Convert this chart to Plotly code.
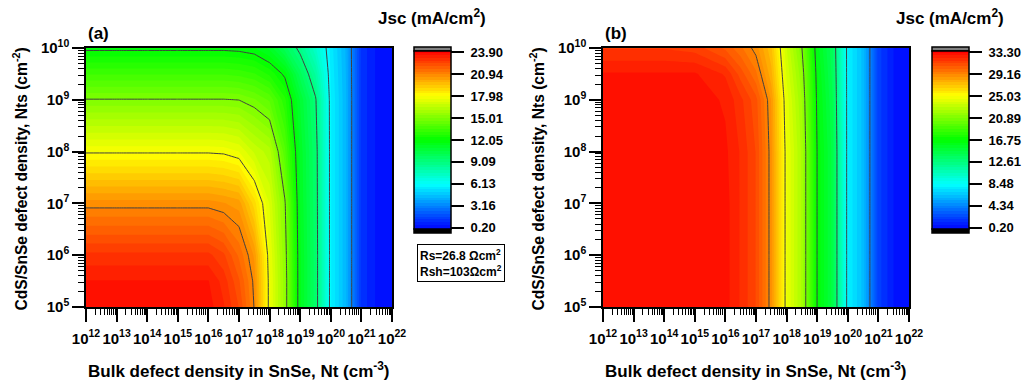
import numpy as np
import plotly.graph_objects as go

# Grid: log10 of bulk defect density Nt (cm^-3) and interface defect density Nts (cm^-2)
nt_log = [12, 13, 14, 15, 16, 16.5, 17, 17.5, 18, 18.5, 19, 19.5, 20, 20.5, 21, 21.5, 22]
nts_log = [5, 5.5, 6, 7, 8, 9, 9.5, 10]

# Jsc (mA/cm^2), one row per Nts value, panel (a): Rs=26.8, Rsh=103
jsc_a = [
    [23.7, 23.7, 23.7, 23.7, 23.7, 23.2, 22.4, 20.9, 17.7, 15.5, 11.4, 9.6, 5.8, 4.3, 1.2, 0.5, 0.3],
    [23.55, 23.55, 23.55, 23.55, 23.55, 23.0, 22.1, 20.8, 17.7, 15.5, 11.4, 9.6, 5.8, 4.3, 1.2, 0.5, 0.3],
    [22.9, 22.9, 22.9, 22.9, 22.9, 22.5, 21.6, 20.5, 17.6, 15.4, 11.4, 9.6, 5.8, 4.3, 1.2, 0.5, 0.3],
    [20.75, 20.75, 20.75, 20.75, 20.75, 20.6, 20.4, 18.9, 17.2, 15.1, 11.3, 9.55, 5.8, 4.3, 1.2, 0.5, 0.3],
    [17.9, 17.9, 17.9, 17.9, 17.9, 17.85, 17.6, 16.8, 16.3, 14.0, 11.2, 9.5, 5.8, 4.3, 1.2, 0.5, 0.3],
    [15.05, 15.05, 15.05, 15.05, 15.05, 15.05, 15.0, 14.7, 14.2, 12.9, 10.9, 9.2, 5.8, 4.3, 1.2, 0.5, 0.3],
    [13.5, 13.5, 13.5, 13.5, 13.5, 13.5, 13.4, 13.2, 12.7, 11.9, 10.0, 8.3, 5.7, 4.25, 1.2, 0.5, 0.3],
    [11.9, 11.9, 11.9, 11.9, 11.9, 11.9, 11.85, 11.7, 11.2, 10.0, 8.8, 7.3, 5.6, 4.2, 1.2, 0.5, 0.3],
]

# Jsc (mA/cm^2), panel (b)
jsc_b = [
    [33.0, 33.0, 33.0, 33.0, 33.0, 32.2, 31.2, 28.8, 24.6, 22.3, 16.7, 14.5, 8.0, 6.2, 2.0, 0.7, 0.3],
    [33.0, 33.0, 33.0, 33.0, 33.0, 32.2, 31.2, 28.8, 24.6, 22.3, 16.7, 14.5, 8.0, 6.2, 2.0, 0.7, 0.3],
    [33.0, 33.0, 33.0, 33.0, 33.0, 32.2, 31.2, 28.8, 24.6, 22.3, 16.7, 14.5, 8.0, 6.2, 2.0, 0.7, 0.3],
    [33.0, 33.0, 33.0, 33.0, 33.0, 32.2, 31.2, 28.8, 24.6, 22.3, 16.7, 14.5, 8.0, 6.2, 2.0, 0.7, 0.3],
    [33.0, 33.0, 33.0, 33.0, 32.9, 32.2, 31.2, 28.8, 24.6, 22.3, 16.7, 14.5, 8.0, 6.2, 2.0, 0.7, 0.3],
    [33.1, 33.1, 33.1, 33.1, 32.7, 31.9, 30.9, 28.6, 24.3, 21.9, 16.5, 14.2, 8.0, 6.2, 2.0, 0.7, 0.3],
    [32.85, 32.85, 32.85, 32.85, 32.2, 31.0, 29.8, 27.8, 23.9, 21.5, 16.3, 14.0, 8.0, 6.2, 2.0, 0.7, 0.3],
    [31.7, 31.7, 31.7, 31.5, 30.6, 29.8, 28.9, 27.2, 23.5, 20.9, 16.0, 13.8, 8.0, 6.2, 2.0, 0.7, 0.3],
]

# Colour-scale limits and major levels
range_a = (0.20, 23.90)
range_b = (0.20, 33.30)
ticks_a = ["0.20", "3.16", "6.13", "9.09", "12.05", "15.01", "17.98", "20.94", "23.90"]
ticks_b = ["0.20", "4.34", "8.48", "12.61", "16.75", "20.89", "25.03", "29.16", "33.30"]
x_decades = list(range(12, 23))
y_decades = list(range(5, 11))

W, H = 1024, 384
FONT = "Liberation Sans, Arial, sans-serif"

rainbow = [
    [0.0, "rgb(0,0,255)"],
    [0.25, "rgb(0,255,255)"],
    [0.5, "rgb(0,255,0)"],
    [0.75, "rgb(255,255,0)"],
    [0.875, "rgb(255,128,0)"],
    [1.0, "rgb(255,0,0)"],
]


def px_x(p):
    return p / W


def px_y(p):
    return 1 - p / H


def bold(size):
    return dict(family=FONT, size=size, color="black", weight="bold")


panels = [
    dict(z=jsc_a, rng=range_a, ticks=ticks_a, left=86, right=392, cb=414, xa="x", ya="y", tag="(a)"),
    dict(z=jsc_b, rng=range_b, ticks=ticks_b, left=603, right=909, cb=932, xa="x2", ya="y2", tag="(b)"),
]

PLOT_TOP, PLOT_BOT = 48, 307
CB_TOP, CB_BOT = 51, 229
N_BANDS = 64

fig = go.Figure()
shapes = []
annotations = []

for i, p in enumerate(panels):
    lo, hi = p["rng"]
    major = (hi - lo) / 8
    fig.add_trace(go.Contour(
        x=nt_log, y=nts_log, z=p["z"],
        xaxis=p["xa"], yaxis=p["ya"],
        colorscale=rainbow,
        autocontour=False,
        contours=dict(start=lo, end=hi, size=(hi - lo) / N_BANDS, coloring="fill", showlines=False),
        line=dict(width=0, smoothing=0),
        colorbar=dict(
            x=px_x(p["cb"]), xanchor="left", xpad=0,
            y=px_y(CB_TOP), yanchor="top", ypad=0,
            len=CB_BOT - CB_TOP, lenmode="pixels",
            thickness=37, thicknessmode="pixels",
            outlinewidth=1.5, outlinecolor="black",
            ticks="outside", ticklen=13, tickwidth=1.5, tickcolor="black",
            tickvals=[lo + k * major for k in range(9)],
            ticktext=["\u00a0" + t for t in p["ticks"]],
            tickfont=bold(13),
        ),
        hoverinfo="skip",
    ))
    fig.add_trace(go.Contour(
        x=nt_log, y=nts_log, z=p["z"],
        xaxis=p["xa"], yaxis=p["ya"],
        autocontour=False,
        contours=dict(start=lo + major, end=hi - major + 1e-6, size=major, coloring="none", showlines=True),
        line=dict(color="#404040", width=1, smoothing=0),
        showscale=False,
        hoverinfo="skip",
    ))

    # out-of-range caps of the colour bar
    cx0, cx1 = px_x(p["cb"]), px_x(p["cb"] + 37)
    shapes.append(dict(type="rect", xref="paper", yref="paper", x0=cx0, x1=cx1,
                       y0=px_y(CB_TOP), y1=px_y(CB_TOP - 4), fillcolor="#808080",
                       line=dict(color="black", width=1.5)))
    shapes.append(dict(type="rect", xref="paper", yref="paper", x0=cx0, x1=cx1,
                       y0=px_y(CB_BOT + 4), y1=px_y(CB_BOT), fillcolor="black",
                       line=dict(color="black", width=1.5)))

    # panel tag, colour-bar title and axis titles
    annotations.append(dict(text=p["tag"], x=px_x(p["left"]), y=px_y(34), xref="paper", yref="paper",
                            xanchor="left", yanchor="middle", showarrow=False, font=bold(17)))
    annotations.append(dict(text="Jsc (mA/cm<sup>2</sup>)", x=px_x(p["cb"] + 18), y=px_y(17),
                            xref="paper", yref="paper", xanchor="center", yanchor="middle",
                            showarrow=False, font=bold(17)))
    annotations.append(dict(text="Bulk defect density in SnSe, Nt (cm<sup>-3</sup>)",
                            x=px_x((p["left"] + p["right"]) / 2), y=px_y(370), xref="paper", yref="paper",
                            xanchor="center", yanchor="middle", showarrow=False, font=bold(17)))
    annotations.append(dict(text="CdS/SnSe defect density, Nts (cm<sup>-2</sup>)",
                            x=px_x(p["left"] - 66), y=px_y((PLOT_TOP + PLOT_BOT) / 2 + 2), xref="paper",
                            yref="paper", xanchor="center", yanchor="middle", textangle=-90,
                            showarrow=False, font=bold(15.6)))

annotations.append(dict(text="Rs=26.8 Ωcm<sup>2</sup><br>Rsh=103Ωcm<sup>2</sup>",
                        x=px_x(461), y=px_y(263), xref="paper", yref="paper",
                        xanchor="center", yanchor="middle", align="left", showarrow=False,
                        bordercolor="black", borderwidth=1, borderpad=2, bgcolor="white",
                        font=bold(12)))

x_minor = [n + np.log10(k) for n in x_decades[:-1] for k in range(2, 10)]
y_minor = [n + np.log10(k) for n in y_decades[:-1] for k in range(2, 10)]


def x_axis(p):
    return dict(
        domain=[px_x(p["left"]), px_x(p["right"])], range=[12, 22], anchor=p["ya"],
        tickmode="array", tickvals=x_decades, ticktext=[f"10<sup>{n}</sup>" for n in x_decades],
        ticks="outside", ticklen=13, tickwidth=1.5, tickcolor="black",
        tickangle=0, ticklabelstandoff=4,
        minor=dict(tickmode="array", tickvals=x_minor, ticks="outside", ticklen=6, tickwidth=1, tickcolor="black"),
        showline=True, linecolor="black", linewidth=1.5, mirror=True,
        showgrid=False, zeroline=False,
        tickfont=bold(15),
    )


def y_axis(p):
    return dict(
        domain=[px_y(PLOT_BOT), px_y(PLOT_TOP)], range=[5, 10], anchor=p["xa"],
        tickmode="array", tickvals=y_decades, ticktext=[f"10<sup>{n}</sup>" for n in y_decades],
        ticks="outside", ticklen=12, tickwidth=1.5, tickcolor="black",
        minor=dict(tickmode="array", tickvals=y_minor, ticks="outside", ticklen=6, tickwidth=1, tickcolor="black"),
        showline=True, linecolor="black", linewidth=1.5, mirror=True,
        showgrid=False, zeroline=False,
        tickfont=bold(15),
    )


fig.update_layout(
    width=W, height=H,
    margin=dict(l=0, r=0, t=0, b=0, autoexpand=False),
    paper_bgcolor="white", plot_bgcolor="white",
    showlegend=False,
    xaxis=x_axis(panels[0]), yaxis=y_axis(panels[0]),
    xaxis2=x_axis(panels[1]), yaxis2=y_axis(panels[1]),
    shapes=shapes, annotations=annotations,
)

fig.write_html("out.html")
